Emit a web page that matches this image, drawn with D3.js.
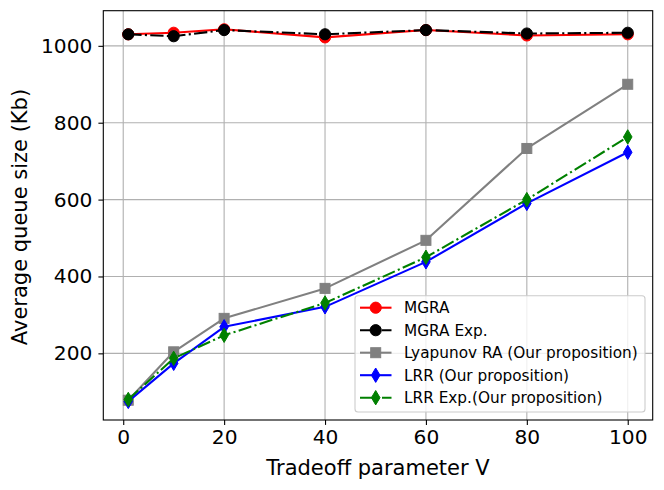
<!DOCTYPE html>
<html>
<head>
<meta charset="utf-8">
<script src="https://cdn.jsdelivr.net/npm/d3@7"></script>
<style>
  body { margin: 0; background: #fff; }
  text { font-family: "DejaVu Sans", sans-serif; fill: #000; }
</style>
</head>
<body>
<div id="chart"></div>
<script>
// Average queue size vs tradeoff parameter V

const V          = [1, 10, 20, 40, 60, 80, 100];
const mgra       = [1030, 1034, 1043, 1022, 1041, 1027, 1030];
const mgraExp    = [1030, 1025, 1041, 1030, 1041, 1032, 1034];
const lyapunov   = [78, 204, 291, 369, 494, 733, 900];
const lrr        = [75, 174, 269, 321, 438, 590, 723];
const lrrExp     = [80, 187, 247, 331, 450, 600, 763];
const xTicks     = [0, 20, 40, 60, 80, 100];
const yTicks     = [200, 400, 600, 800, 1000];

const DASHDOT = '13.3,3.3,2.1,3.3';
const series = [
  { name: 'MGRA',                          values: mgra,     color: '#ff0000', dash: null,    marker: 'circle'  },
  { name: 'MGRA Exp.',                     values: mgraExp,  color: '#000000', dash: DASHDOT, marker: 'circle'  },
  { name: 'Lyapunov RA (Our proposition)', values: lyapunov, color: '#808080', dash: null,    marker: 'square'  },
  { name: 'LRR (Our proposition)',         values: lrr,      color: '#0000ff', dash: null,    marker: 'diamond' },
  { name: 'LRR Exp.(Our proposition)',     values: lrrExp,   color: '#008000', dash: DASHDOT, marker: 'diamond' },
];

const W = 664, H = 490;
const L = 103.3, R = 652.7, T = 10.7, B = 420;

const svg = d3.select('#chart').append('svg').attr('width', W).attr('height', H);

// matplotlib-style 5% margins
const xExt = d3.extent(V), xPad = (xExt[1] - xExt[0]) * 0.05;
const allY = series.flatMap(s => s.values);
const yExt = d3.extent(allY), yPad = (yExt[1] - yExt[0]) * 0.05;

const x = d3.scaleLinear().domain([xExt[0] - xPad, xExt[1] + xPad]).range([L, R]);
const y = d3.scaleLinear().domain([yExt[0] - yPad, yExt[1] + yPad]).range([B, T]);

// grid
const grid = svg.append('g').attr('stroke', '#b0b0b0').attr('stroke-width', 1.1);
grid.selectAll('.gx').data(xTicks).enter().append('line')
  .attr('x1', d => x(d)).attr('x2', d => x(d)).attr('y1', T).attr('y2', B);
grid.selectAll('.gy').data(yTicks).enter().append('line')
  .attr('y1', d => y(d)).attr('y2', d => y(d)).attr('x1', L).attr('x2', R);

// axes
const xAxis = svg.append('g').attr('transform', `translate(0,${B})`)
  .call(d3.axisBottom(x).tickValues(xTicks).tickSize(4.9).tickPadding(4.9).tickFormat(d3.format('d')));
const yAxis = svg.append('g').attr('transform', `translate(${L},0)`)
  .call(d3.axisLeft(y).tickValues(yTicks).tickSize(4.9).tickPadding(6).tickFormat(d3.format('d')));
[xAxis, yAxis].forEach(a => {
  a.select('.domain').remove();
  a.selectAll('line').attr('stroke', '#000').attr('stroke-width', 1.1);
  a.selectAll('text').style('font-size', '20.2px').attr('font-family', 'DejaVu Sans');
});

// lines + markers
const line = d3.line().x((d, i) => x(V[i])).y(d => y(d));

function drawMarker(g, type, color, cx, cy) {
  if (type === 'circle') {
    g.append('circle').attr('cx', cx).attr('cy', cy).attr('r', 5.6)
      .attr('fill', color).attr('stroke', color).attr('stroke-width', 1);
  } else if (type === 'square') {
    g.append('rect').attr('x', cx - 5).attr('y', cy - 5).attr('width', 10).attr('height', 10)
      .attr('fill', color).attr('stroke', color).attr('stroke-width', 1);
  } else {
    const hw = 4.3, hh = 7.2;
    g.append('path').attr('d', `M${cx},${cy - hh}L${cx + hw},${cy}L${cx},${cy + hh}L${cx - hw},${cy}Z`)
      .attr('fill', color).attr('stroke', color).attr('stroke-width', 1);
  }
}

series.forEach(s => {
  const g = svg.append('g');
  g.append('path').datum(s.values).attr('d', line)
    .attr('fill', 'none').attr('stroke', s.color).attr('stroke-width', 2.1)
    .attr('stroke-linejoin', 'round')
    .attr('stroke-dasharray', s.dash);
  s.values.forEach((v, i) => drawMarker(g, s.marker, s.color, x(V[i]), y(v)));
});

// frame
svg.append('rect').attr('x', L).attr('y', T).attr('width', R - L).attr('height', B - T)
  .attr('fill', 'none').attr('stroke', '#000').attr('stroke-width', 1.1);

// axis labels
svg.append('text').attr('x', (L + R) / 2).attr('y', 474.5).attr('text-anchor', 'middle')
  .style('font-size', '21px').text('Tradeoff parameter V');
svg.append('text').attr('transform', `translate(27,217) rotate(-90)`)
  .attr('text-anchor', 'middle').style('font-size', '21px').text('Average queue size (Kb)');

// legend
const lg = svg.append('g');
lg.append('rect').attr('x', 355).attr('y', 295.7).attr('width', 290).attr('height', 116.3).attr('rx', 3)
  .attr('fill', '#fff').attr('fill-opacity', 0.8).attr('stroke', '#cccccc').attr('stroke-width', 1.1);
series.forEach((s, i) => {
  const cy = 307.7 + i * 22.5;
  const g = lg.append('g');
  g.append('line').attr('x1', 360).attr('x2', 391.5).attr('y1', cy).attr('y2', cy)
    .attr('stroke', s.color).attr('stroke-width', 2.1).attr('stroke-dasharray', s.dash);
  drawMarker(g, s.marker, s.color, 375.7, cy);
  g.append('text').attr('x', 404).attr('y', cy + 5.6).style('font-size', '15.3px').text(s.name);
});
</script>
</body>
</html>
